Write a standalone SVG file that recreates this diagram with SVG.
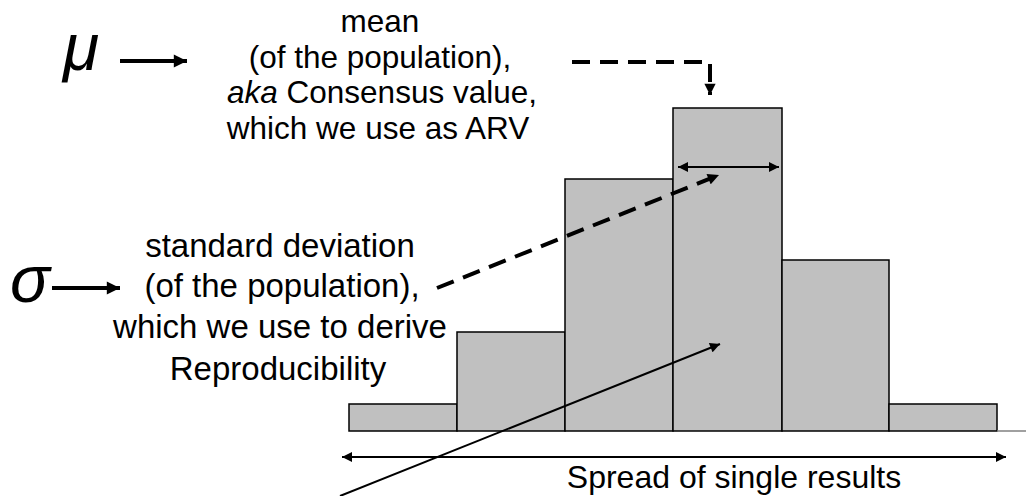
<svg xmlns="http://www.w3.org/2000/svg" width="1026" height="496" viewBox="0 0 1026 496">
<style>
.t{font-family:"Liberation Sans",Arial,sans-serif;fill:#000;text-anchor:middle}
.m{font-size:31.5px}
.s{font-size:33px}
.g{font-family:"Liberation Sans",Arial,sans-serif;font-style:italic;font-size:66px;fill:#000}
.bar{fill:#C0C0C0;stroke:#000;stroke-width:1.5}
.thick{stroke:#000;stroke-width:4;fill:none}
.dash{stroke:#000;stroke-width:4;fill:none;stroke-dasharray:18 10}
.thin{stroke:#000;stroke-width:2;fill:none}
</style>
<defs>
<marker id="ah" viewBox="0 0 10 10" refX="10" refY="5" markerWidth="3.8" markerHeight="3.3" orient="auto" markerUnits="strokeWidth"><path d="M0,0 L10,5 L0,10 z" fill="#000"/></marker>
<marker id="ahs" viewBox="0 0 10 10" refX="10" refY="5" markerWidth="5.5" markerHeight="5" orient="auto-start-reverse" markerUnits="strokeWidth"><path d="M0,0 L10,5 L0,10 z" fill="#000"/></marker>
<marker id="ahd" viewBox="0 0 10 10" refX="10" refY="5" markerWidth="3.1" markerHeight="2.8" orient="auto" markerUnits="strokeWidth"><path d="M0,0 L10,5 L0,10 z" fill="#000"/></marker>
</defs>
<g id="histogram">
<rect class="bar" x="349" y="404" width="108" height="27"/>
<rect class="bar" x="457" y="332" width="108" height="99"/>
<rect class="bar" x="565" y="179" width="108" height="252"/>
<rect class="bar" x="673" y="108" width="109" height="323"/>
<rect class="bar" x="782" y="260" width="107" height="171"/>
<rect class="bar" x="889" y="404" width="108" height="27"/>
<line x1="997" y1="431" x2="1026" y2="431" stroke="#808080" stroke-width="1.5"/>
</g>
<g id="mu">
<text class="g" x="63" y="70">μ</text>
</g>
<g id="sigma">
<text class="g" x="10" y="302">σ</text>
</g>
<g id="mean-label">
<text class="t m" x="380" y="32">mean</text>
<text class="t m" x="380" y="67.5">(of the population),</text>
<text class="t m" x="382" y="103"><tspan font-style="italic">aka</tspan> Consensus value,</text>
<text class="t m" x="378" y="138.5">which we use as ARV</text>
</g>
<g id="sd-label">
<text class="t s" x="280" y="257">standard deviation</text>
<text class="t s" x="282" y="297">(of the population),</text>
<text class="t s" x="280" y="338">which we use to derive</text>
<text class="t s" x="278" y="380">Reproducibility</text>
</g>
<g id="spread-label">
<text class="t" font-size="32" x="734" y="488">Spread of single results</text>
</g>
<g id="connectors">
<line class="thick" x1="120" y1="61" x2="187" y2="61" marker-end="url(#ah)"/>
<line class="thick" x1="52" y1="288" x2="120" y2="288" marker-end="url(#ah)"/>
<polyline class="dash" points="572,62 710,62 710,95" marker-end="url(#ahd)"/>
<line class="dash" x1="437" y1="288" x2="719" y2="175" marker-end="url(#ahd)"/>
<line class="thin" x1="678" y1="167" x2="779" y2="167" marker-start="url(#ahs)" marker-end="url(#ahs)"/>
<line class="thin" x1="342" y1="457" x2="1006" y2="457" marker-start="url(#ahs)" marker-end="url(#ahs)"/>
<line class="thin" x1="340" y1="496" x2="720" y2="344" marker-end="url(#ahs)"/>
</g>
</svg>
